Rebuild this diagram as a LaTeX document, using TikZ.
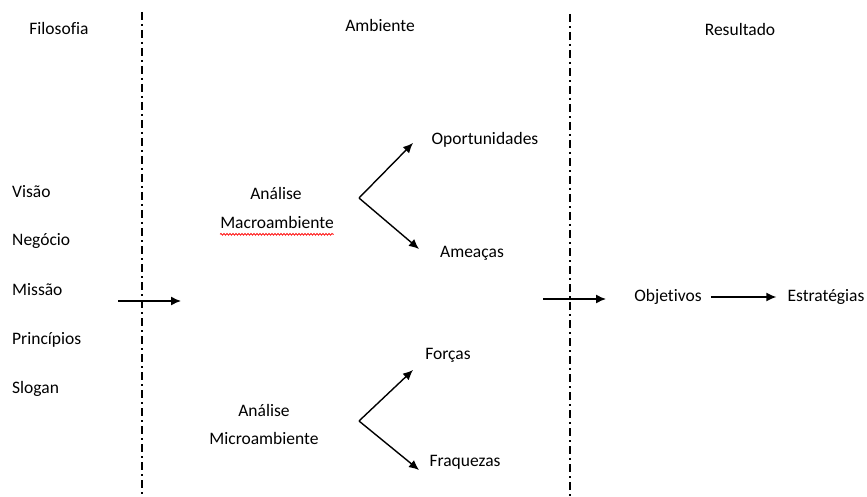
\documentclass[tikz,border=0pt]{standalone}
\usepackage{fontspec}
\setmainfont{Carlito}[Ligatures=NoCommon]
\usetikzlibrary{arrows.meta,decorations.pathmorphing}

\begin{document}
\begin{tikzpicture}[x=1pt, y=-1pt,
    every node/.style={inner sep=0pt, font=\fontsize{17.5}{21}\selectfont},
    seta/.style={-{Latex[length=10pt,width=9pt]}, line width=1.4pt},
    divisa/.style={line width=1.1pt, dash pattern=on 8pt off 4pt on 2pt off 4pt}]
  \useasboundingbox (0,0) rectangle (867,497);
  % titulos
  \node (filo) at (59,28) {Filosofia};
  \node (amb) at (380,25) {Ambiente};
  \node (res) at (740,29) {Resultado};
  % divisorias
  \coordinate (d1a) at (142,12);
  \coordinate (d1b) at (142,497);
  \coordinate (d2a) at (570,14);
  \coordinate (d2b) at (570,497);
  \draw[divisa] (d1a) -- (d1b);
  \draw[divisa] (d2a) -- (d2b);
  % filosofia
  \foreach \nome/\texto/\yy in {vis/Visão/192, neg/Negócio/241, mis/Missão/290, pri/Princípios/340, slo/Slogan/389}
    \node[anchor=west] (\nome) at (12,\yy) {\texto};
  % ambiente
  \node (anmac) at (276,193) {Análise};
  \node (mac) at (277,222) {Macroambiente};
  \draw[red, line width=0.7pt, decorate, decoration={snake, amplitude=0.9pt, segment length=3pt}]
    ([yshift=-6pt]mac.south west) -- ([yshift=-6pt]mac.south east);
  \node (opo) at (485,140) {Oportunidades};
  \node (ame) at (472,253) {Ameaças};
  \node (anmic) at (264,410) {Análise};
  \node (mic) at (264,438) {Microambiente};
  \node (for) at (448,355) {Forças};
  \node (fra) at (465,462) {Fraquezas};
  % resultado
  \node (obj) at (668,297) {Objetivos};
  \node (est) at (826,297) {Estratégias};
  % pontos das setas
  \coordinate (fe) at (118,301);
  \coordinate (fs) at (181,301);
  \coordinate (vmac) at (359,198);
  \coordinate (topo) at (413,143);
  \coordinate (tame) at (419,249);
  \coordinate (vmic) at (359,421);
  \coordinate (tfor) at (413,370);
  \coordinate (tfra) at (419,470);
  \coordinate (re) at (543,299);
  \coordinate (rs) at (606,299);
  \foreach \source/\dest in {fe/fs, vmac/topo, vmac/tame, vmic/tfor, vmic/tfra, re/rs}
    \draw[seta] (\source) -- (\dest);
  \draw[seta, shorten <=9pt, shorten >=11pt] (obj) -- (est);
\end{tikzpicture}
\end{document}
